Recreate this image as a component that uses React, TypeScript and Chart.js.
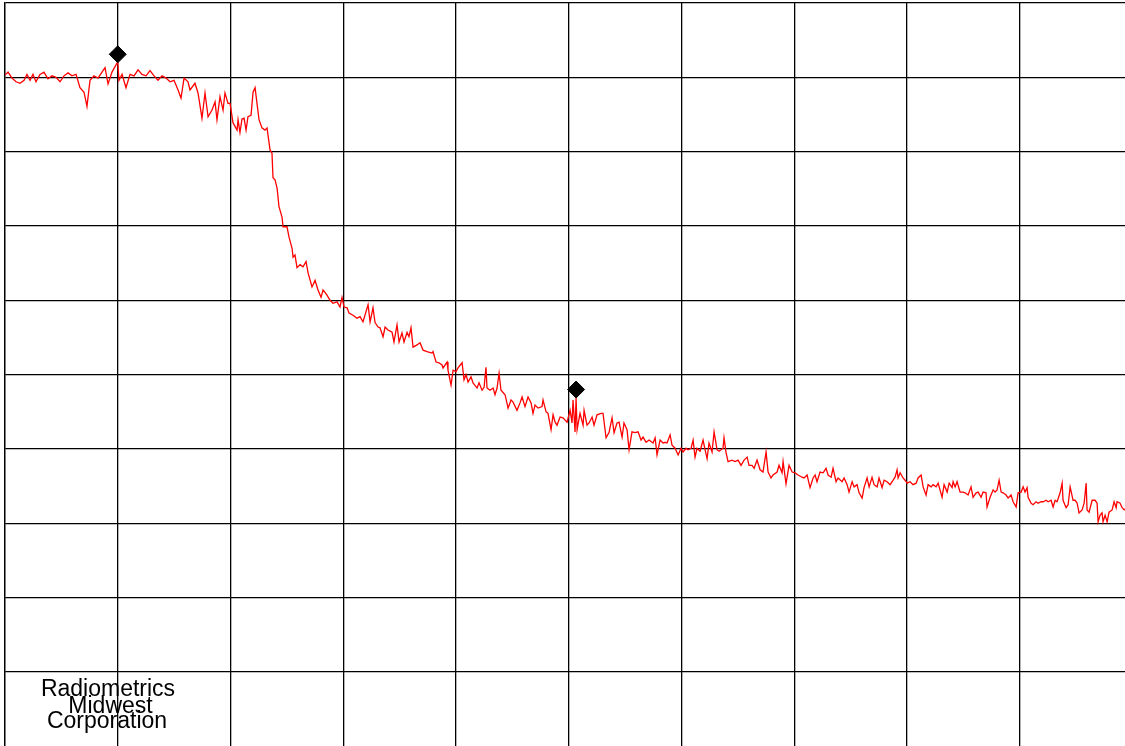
import React, { useEffect, useRef } from "react";
import { Chart, registerables } from "chart.js";

Chart.register(...registerables);

// Frequency axis (MHz-like units, 100 per division) and level axis (dB, 10 per division)
const freqTicks = [0, 100, 200, 300, 400, 500, 600, 700, 800, 900, 1000];
const levelTicks = [0, 10, 20, 30, 40, 50, 60, 70, 80, 90, 100];

// [frequency, level] samples
const scanLow: [number, number][] = [
  [0, 90.3], [2.7, 90.7], [6.2, 89.9], [9.8, 89.4], [13.3, 89.2], [16.9, 89.6], [19.5, 90.4], [22.2, 89.6], [24.8, 90.4], [27.5, 89.4],
  [31.0, 90.4], [34.6, 90.7], [38.1, 89.8], [41.7, 90.2], [45.2, 90.0], [48.8, 89.4], [52.3, 90.2], [55.9, 90.6], [59.4, 90.2], [63.0, 90.4],
  [66.5, 88.6], [70.1, 88.0], [72.7, 86.1], [75.4, 89.6], [78.9, 90.2], [82.5, 89.9], [86.0, 90.7], [88.7, 91.3], [91.4, 89.1], [94.9, 90.7],
  [100.0, 92.1], [101.1, 89.6], [103.8, 90.4], [107.3, 88.6], [110.9, 90.4], [114.4, 90.2], [118.0, 91.0], [121.5, 90.4], [125.1, 90.2], [128.6, 90.9],
  [132.2, 90.2], [135.7, 89.6], [139.3, 90.2], [142.8, 89.9], [146.4, 89.4], [149.9, 89.6], [153.5, 88.3], [156.1, 87.2], [158.8, 89.9], [162.3, 89.4],
];

const scanDrop: [number, number][] = [
  [164.1, 88.3], [168.5, 89.2], [171.2, 87.9], [174.7, 84.5], [177.4, 87.9], [180.1, 84.7], [183.6, 85.6], [186.3, 86.7], [188.0, 84.3], [190.7, 87.4],
  [193.4, 85.6], [195.1, 87.9], [197.8, 86.5], [199.6, 86.5], [202.2, 83.9], [205.8, 82.9], [206.7, 84.3], [208.4, 82.6], [210.2, 84.4], [212.0, 84.5],
  [213.8, 82.9], [215.5, 84.7], [218.2, 84.9], [220.0, 88.0], [221.8, 88.6], [223.5, 86.5], [225.3, 84.3], [227.9, 83.2], [230.6, 82.9], [232.4, 83.2],
  [235.1, 80.2], [236.8, 79.8], [237.7, 76.5], [239.5, 76.2], [241.3, 75.1], [243.0, 72.6], [245.7, 71.2], [246.6, 69.9], [250.1, 69.9], [251.9, 68.5],
  [254.6, 67.0], [255.5, 65.8], [257.2, 66.1], [259.0, 64.4], [261.7, 64.8], [264.3, 64.5], [267.0, 65.2], [268.8, 63.7], [272.3, 61.8], [275.0, 62.7],
  [277.6, 61.4], [280.3, 60.4], [282.1, 61.4], [285.6, 60.7], [288.3, 60.0], [290.9, 59.6], [294.5, 59.8], [297.1, 59.1], [298.9, 60.4], [300.7, 59.1],
  [303.4, 59.0], [305.1, 58.3], [308.7, 58.0], [312.2, 57.6], [314.9, 57.8], [317.5, 57.1], [322.0, 59.4], [323.8, 57.1], [326.4, 59.0], [328.2, 57.0],
  [330.9, 56.4],
];

const scanMid: [number, number][] = [
  [332.6, 56.3], [335.3, 55.1], [337.1, 56.4], [339.7, 56.0], [343.3, 55.7], [345.0, 54.4], [347.7, 56.7], [349.5, 54.4], [352.1, 55.6], [353.9, 54.4],
  [356.6, 55.7], [358.3, 55.1], [360.1, 56.3], [361.9, 53.7], [365.4, 54.0], [368.1, 54.3], [370.8, 53.3], [374.3, 53.1], [378.7, 52.9], [379.6, 53.1],
  [382.3, 51.7], [384.9, 51.6], [387.6, 51.3], [388.5, 50.9], [392.1, 51.7], [392.9, 50.6], [395.6, 48.6], [397.4, 50.6], [400.0, 50.4], [401.8, 50.9],
  [405.4, 51.6], [407.1, 49.3], [408.9, 50.0], [410.7, 49.0], [413.3, 49.7], [415.1, 48.9], [418.7, 48.2], [420.4, 48.9], [423.1, 47.9], [424.9, 48.3],
  [426.6, 51.0], [427.5, 48.2], [430.2, 47.9], [432.9, 48.2], [434.6, 47.3], [436.4, 48.2], [438.2, 50.2], [439.9, 47.9], [443.5, 47.3], [446.2, 45.5],
  [448.8, 46.6], [450.6, 46.3], [454.1, 45.2], [456.8, 46.2], [458.6, 47.0], [461.2, 45.7], [463.9, 47.0], [466.6, 46.2], [468.3, 44.8], [470.1, 45.9],
  [472.8, 45.5], [476.3, 45.7], [477.2, 46.6], [479.9, 45.0], [481.6, 44.8], [484.3, 42.6], [486.1, 44.6], [487.9, 43.6], [489.6, 43.2], [492.3, 44.3],
  [494.9, 44.2], [498.5, 43.6],
  [501.2, 45.2], [502.9, 43.5], [503.8, 46.6], [505.6, 42.3], [506.5, 46.9], [507.4, 42.6], [510.0, 44.8], [512.7, 43.2], [513.6, 45.2], [516.2, 43.2],
  [518.0, 43.5], [520.7, 44.3], [522.4, 43.2], [525.1, 44.6], [528.7, 44.8], [530.4, 44.8], [533.1, 41.5], [535.7, 42.2], [538.4, 44.2], [540.2, 42.2],
  [542.8, 43.5], [544.6, 43.6], [547.3, 41.6], [549.0, 43.5], [551.7, 42.6], [553.5, 39.9], [556.1, 42.3], [558.8, 42.2], [561.5, 42.3], [564.1, 41.2],
  [565.9, 41.6], [568.6, 40.9], [571.2, 41.2], [574.8, 40.8], [576.6, 41.5], [578.3, 39.2], [581.0, 41.2], [583.6, 40.8], [585.4, 40.9], [587.2, 40.8],
  [589.9, 41.9], [591.6, 40.5], [594.3, 40.1], [597.0, 39.2], [599.6, 40.1], [601.4, 39.6], [604.0, 40.1], [605.8, 39.9], [608.5, 40.1], [610.3, 41.2],
  [612.0, 38.9], [613.8, 40.1], [616.5, 39.7], [619.1, 41.2], [620.9, 39.9], [622.7, 38.7], [624.4, 40.8], [627.1, 39.6], [628.9, 42.3], [631.5, 39.9],
  [633.3, 39.7], [636.8, 40.1], [637.7, 41.5], [639.5, 39.5], [641.3, 38.3], [644.8, 38.5], [647.5, 38.3], [650.2, 38.5], [652.8, 37.8], [655.5, 38.5],
  [658.2, 38.9], [659.9, 37.8], [662.6, 37.8], [664.4, 37.4], [667.0, 38.5],
];

const scanHigh: [number, number][] = [
  [669.7, 37.2], [672.3, 36.9], [675.0, 39.6], [676.8, 36.9], [679.4, 36.1], [681.2, 36.5], [684.8, 36.9], [686.5, 37.8], [689.2, 36.8], [690.1, 38.3],
  [692.7, 35.3], [695.4, 37.8], [698.1, 36.9], [700.7, 36.8], [703.4, 36.5], [706.9, 36.2], [708.7, 36.1], [711.4, 36.5], [714.0, 34.8], [716.7, 36.1],
  [718.5, 36.5], [720.2, 35.6], [722.9, 36.9], [725.6, 36.8], [728.2, 37.4], [730.0, 36.5], [732.7, 36.2], [734.4, 37.4], [737.1, 35.6], [738.9, 36.1],
  [742.4, 35.6], [744.2, 36.1], [746.9, 35.2], [748.6, 34.2], [751.3, 35.6], [753.1, 34.9], [755.7, 35.2], [757.5, 34.1], [760.2, 33.4], [761.9, 34.8],
  [764.6, 36.1], [766.4, 34.9], [769.0, 36.2], [770.8, 35.2], [773.5, 34.9], [775.2, 36.1], [777.9, 34.8], [779.7, 35.8], [782.3, 35.6], [785.0, 35.2],
  [787.7, 35.8], [789.4, 36.2], [791.2, 37.2], [792.1, 36.1], [793.9, 36.8], [796.5, 36.1], [798.3, 35.8], [800.1, 35.4], [802.7, 35.6], [805.4, 35.2],
  [808.1, 35.4], [809.8, 36.1], [812.5, 36.5], [814.3, 34.9], [816.9, 33.8], [818.7, 35.2], [821.4, 34.9], [823.1, 35.2], [825.8, 34.9], [827.6, 35.4],
  [831.1, 33.5], [832.9, 35.2], [835.6, 34.2], [837.4, 35.4], [840.0, 34.8], [840.9, 35.6], [842.7, 34.9], [844.4, 35.6], [847.1, 34.2], [849.8, 34.2],
  [851.5, 34.1], [854.2, 33.8], [856.8, 34.9], [858.6, 33.5], [861.3, 34.1], [863.1, 34.2], [865.7, 33.5], [867.5, 34.2], [870.1, 34.1], [871.0, 32.2],
  [873.7, 33.5], [876.4, 34.5], [878.1, 34.2], [879.9, 34.5], [881.7, 35.8], [883.5, 34.2], [885.2, 34.1], [887.9, 33.8], [889.7, 33.4], [892.3, 33.8],
  [894.1, 32.9], [896.8, 32.2], [898.5, 34.1], [901.2, 34.2], [903.0, 34.9], [904.7, 34.2], [906.5, 34.8], [907.4, 33.5], [910.1, 32.7], [911.8, 32.5],
  [914.5, 32.9], [916.3, 32.7], [918.9, 32.9], [920.7, 32.9], [923.4, 33.1], [925.1, 32.9], [927.8, 33.1], [929.6, 32.2], [931.4, 33.1], [933.1, 32.9],
  [935.8, 34.1], [937.6, 35.4], [938.4, 33.1], [941.1, 32.1], [942.9, 32.5], [944.7, 34.9], [947.3, 33.1], [949.1, 33.1], [950.9, 32.7], [952.6, 31.4],
  [955.3, 31.8], [957.1, 32.7], [958.9, 35.4], [959.7, 31.8], [961.5, 31.5], [964.2, 33.1], [966.8, 33.1], [968.6, 32.7], [969.5, 30.2], [971.3, 31.1],
  [973.0, 31.4], [973.9, 30.2], [975.7, 31.1], [977.5, 30.2], [979.2, 31.5], [981.9, 31.8], [983.7, 32.9], [985.5, 32.1], [986.3, 32.9], [989.0, 32.7],
  [990.8, 32.1], [992.6, 31.8], [996.1, 32.3], [1000.0, 31.9],
];

const markerPoints: [number, number][] = [
  [100.0, 93.1],
  [506.5, 48.0],
];

const logoLines = ["Radiometrics", "Midwest", "Corporation"];

const toXY = (arr: [number, number][]) => arr.map(([x, y]) => ({ x, y }));

export default function App() {
  const canvasRef = useRef<HTMLCanvasElement | null>(null);

  useEffect(() => {
    const canvas = canvasRef.current;
    if (!canvas) return;

    const logoPlugin = {
      id: "logo",
      afterDraw(chart: any) {
        const { ctx, chartArea } = chart;
        ctx.save();
        ctx.fillStyle = "#000";
        ctx.font = '23px "Liberation Sans", Arial, sans-serif';
        ctx.textAlign = "center";
        ctx.textBaseline = "alphabetic";
        const offsets = [
          [103, 693],
          [105.5, 710],
          [102, 725],
        ];
        logoLines.forEach((t, i) => {
          ctx.fillText(t, chartArea.left + offsets[i][0], chartArea.top + offsets[i][1]);
        });
        ctx.restore();
      },
    };

    const trace = [...scanLow, ...scanDrop, ...scanMid, ...scanHigh];

    const chart = new Chart(canvas, {
      type: "line",
      data: {
        datasets: [
          {
            type: "scatter",
            data: toXY(markerPoints),
            pointStyle: "rectRot",
            pointRadius: 8.5,
            pointBackgroundColor: "#000",
            pointBorderColor: "#000",
            pointBorderWidth: 1,
            showLine: false,
            order: 0,
          } as any,
          {
            data: toXY(trace),
            borderColor: "#ff0000",
            borderWidth: 1.3,
            pointRadius: 0,
            tension: 0,
            fill: false,
            order: 1,
          },
        ],
      },
      options: {
        responsive: false,
        animation: false,
        events: [],
        layout: { autoPadding: false, padding: { left: 5, top: 3, right: 7.5, bottom: 5.7 } },
        plugins: {
          legend: { display: false },
          tooltip: { enabled: false },
          title: { display: false },
        },
        scales: {
          x: {
            type: "linear",
            min: freqTicks[0],
            max: freqTicks[freqTicks.length - 1],
            afterBuildTicks: (axis: any) => {
              axis.ticks = freqTicks.map((v) => ({ value: v }));
            },
            ticks: { display: false },
            grid: { color: "#000", lineWidth: 1.3, drawTicks: false },
            border: { color: "#000", width: 1.3 },
          },
          y: {
            type: "linear",
            min: levelTicks[0],
            max: levelTicks[levelTicks.length - 1],
            afterBuildTicks: (axis: any) => {
              axis.ticks = levelTicks.map((v) => ({ value: v }));
            },
            ticks: { display: false },
            grid: { color: "#000", lineWidth: 1.3, drawTicks: false },
            border: { color: "#000", width: 1.3 },
          },
        },
      },
      plugins: [logoPlugin],
    });

    return () => chart.destroy();
  }, []);

  return (
    <div
      style={{
        position: "fixed",
        left: 0,
        top: 0,
        width: 1125,
        height: 746,
        overflow: "hidden",
        background: "#fff",
      }}
    >
      <canvas ref={canvasRef} width={1140} height={752} style={{ display: "block" }} />
    </div>
  );
}
